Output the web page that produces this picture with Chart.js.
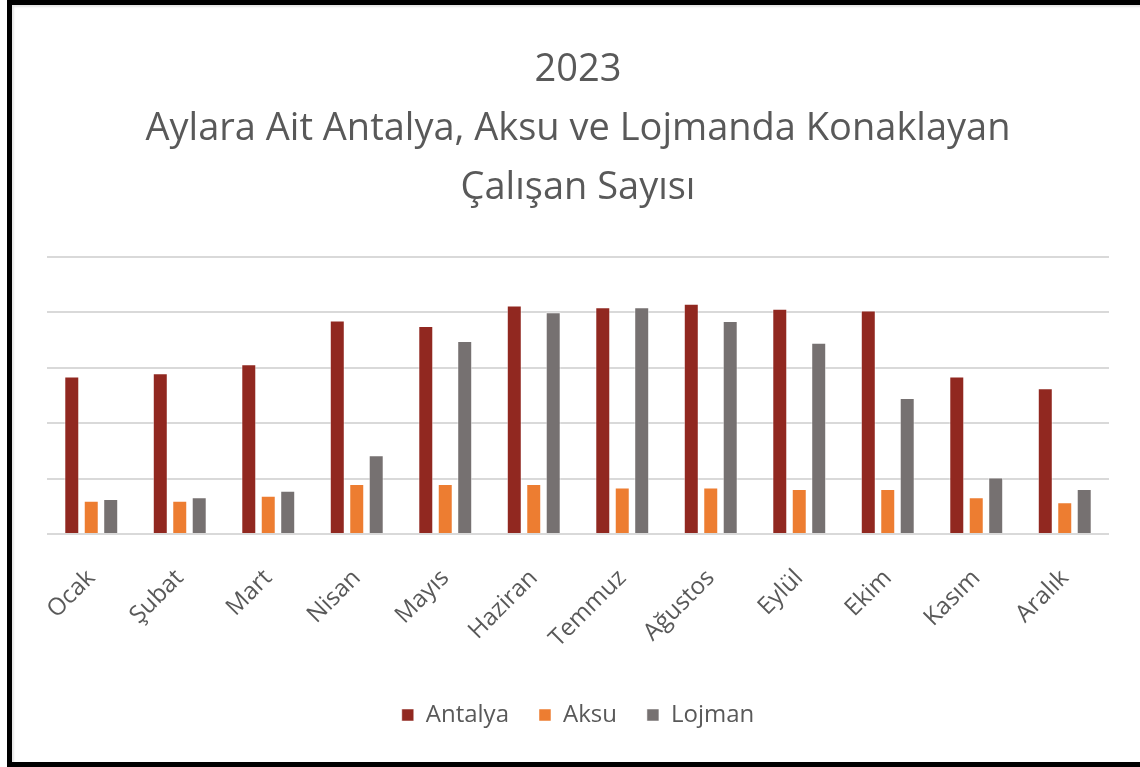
<!DOCTYPE html>
<html>
<head>
<meta charset="utf-8">
<script src="https://cdn.jsdelivr.net/npm/chart.js@4"></script>
<style>
  html, body { margin: 0; padding: 0; background: #fff; overflow: hidden; }
  #wrap { position: relative; width: 1140px; height: 767px; }
  #frame {
    position: absolute; left: 7px; top: 0; width: 1150px; height: 757px;
    border-left: 5px solid #000; border-top: 5px solid #000; border-bottom: 5px solid #000;
    box-shadow: inset 2px 2px 2px #e6e6e6; pointer-events: none;
  }
  canvas { position: absolute; left: 0; top: 0; }
</style>
</head>
<body>
<div id="wrap">
  <canvas id="chart-konaklama" width="1140" height="767"></canvas>
  <div id="frame"></div>
</div>
<script>
var months = ['Ocak', 'Şubat', 'Mart', 'Nisan', 'Mayıs', 'Haziran', 'Temmuz', 'Ağustos', 'Eylül', 'Ekim', 'Kasım', 'Aralık'];
var antalya = [284, 290, 306, 385, 375, 412, 409, 415, 406, 403, 284, 263];
var aksu = [60, 60, 69, 90, 90, 90, 84, 84, 81, 81, 66, 57];
var lojman = [63, 66, 78, 142, 348, 400, 409, 384, 345, 245, 102, 81];
var titleLines = ['2023', 'Aylara Ait Antalya, Aksu ve Lojmanda Konaklayan', 'Çalışan Sayısı'];

var FONT = '"Open Sans", sans-serif';
var textGray = '#595959';

function barSet(label, data, color) {
    return {
        label: label,
        data: data,
        backgroundColor: color,
        borderColor: 'rgba(255,255,255,0.5)',
        borderWidth: 1,
        barPercentage: 0.77,
        categoryPercentage: 0.66
    };
}

var ctx = document.getElementById('chart-konaklama');
if (ctx) {
    new Chart(ctx, {
        type: 'bar',
        data: {
            labels: months,
            datasets: [
                barSet('Antalya', antalya, '#912820'),
                barSet('Aksu', aksu, '#ED7D31'),
                barSet('Lojman', lojman, '#767171')
            ]
        },
        options: {
            responsive: false,
            animation: false,
            layout: { padding: { left: 47, right: 31, top: 41, bottom: 30 } },
            plugins: {
                title: {
                    display: true,
                    text: titleLines,
                    color: textGray,
                    font: { family: FONT, size: 38, weight: 'normal', lineHeight: 1.55 },
                    padding: { top: 0, bottom: 39 }
                },
                legend: {
                    position: 'bottom',
                    labels: {
                        color: textGray,
                        font: { family: FONT, size: 24 },
                        boxWidth: 12,
                        boxHeight: 12,
                        padding: 30
                    }
                },
                tooltip: { enabled: false }
            },
            scales: {
                x: {
                    grid: { display: false },
                    border: { display: false },
                    ticks: {
                        color: textGray,
                        font: { family: FONT, size: 24 },
                        minRotation: 45,
                        maxRotation: 45,
                        padding: 22
                    },
                    // labels hang a little lower than the axis box in the original
                    afterFit: function (scale) { scale.height -= 2; }
                },
                y: {
                    min: 0,
                    max: 500,
                    ticks: { display: false, stepSize: 100 },
                    border: { display: false },
                    grid: { color: '#d9d9d9', lineWidth: 2, drawTicks: false }
                }
            }
        }
    });
}
</script>
</body>
</html>
